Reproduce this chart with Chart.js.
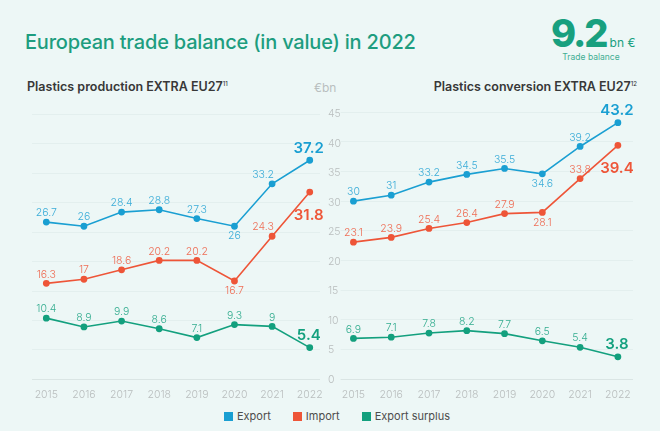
<!DOCTYPE html>
<html>
<head>
<meta charset="utf-8">
<script src="https://cdn.jsdelivr.net/npm/chart.js@4/dist/chart.umd.min.js"></script>
<style>
  html, body { margin: 0; padding: 0; }
  body { width: 660px; height: 431px; background: #edf7f6; position: relative; overflow: hidden; font-family: Inter, "Noto Sans", sans-serif; }
  .abs { position: absolute; white-space: nowrap; }
  #title { left: 25px; top: 30px; font-size: 20px; font-weight: 500; color: #1d9d7f; letter-spacing: -0.2px; }
  #big { left: 551px; top: 10px; font-size: 38px; font-weight: 800; color: #18a07f; letter-spacing: -2px; }
  #big span { font-size: 12px; font-weight: 400; letter-spacing: 0; margin-left: 3px; }
  #tb { left: 558px; top: 52px; font-size: 8.5px; color: #3fae93; width: 66px; text-align: center; }
  .sub { top: 79px; font-size: 12.5px; font-weight: 600; color: #383838; }
  .sub sup { font-size: 6px; font-weight: 500; }
  #subL { left: 27px; }
  #subR { right: 23px; }
  #unit { left: 314px; top: 80px; font-size: 12px; color: #b9bfbf; }
  .wrap { position: absolute; top: 100px; height: 302px; }
  #wrapL { left: 0; width: 354px; }
  #wrapR { left: 336px; width: 324px; }
  #legend { left: 0; top: 409px; width: 660px; display: flex; justify-content: center; gap: 22px; font-size: 11px; color: #4d4d4d; padding-left: 14px; box-sizing: border-box; }
  #legend div { display: flex; align-items: center; }
  #legend i { display: inline-block; width: 9px; height: 9px; margin-right: 4px; }
</style>
</head>
<body>
<div id="title" class="abs">European trade balance (in value) in 2022</div>
<div id="big" class="abs">9.2<span>bn €</span></div>
<div id="tb" class="abs">Trade balance</div>
<div id="subL" class="abs sub">Plastics production EXTRA EU27<sup>11</sup></div>
<div id="unit" class="abs">€bn</div>
<div id="subR" class="abs sub">Plastics conversion EXTRA EU27<sup>12</sup></div>
<div id="wrapL" class="wrap"><canvas id="chartL"></canvas></div>
<div id="wrapR" class="wrap"><canvas id="chartR"></canvas></div>
<div id="legend" class="abs">
  <div><i style="background:#1a9fd2"></i>Export</div>
  <div><i style="background:#ee5538"></i>Import</div>
  <div><i style="background:#13a07e"></i>Export surplus</div>
</div>
<script>
const years = [2015, 2016, 2017, 2018, 2019, 2020, 2021, 2022];
const yTicks = [0, 5, 10, 15, 20, 25, 30, 35, 40, 45];

// Plastics production EXTRA EU27
const prodExport = [26.7, 26, 28.4, 28.8, 27.3, 26, 33.2, 37.2];
const prodImport = [16.3, 17, 18.6, 20.2, 20.2, 16.7, 24.3, 31.8];
const prodSurplus = [10.4, 8.9, 9.9, 8.6, 7.1, 9.3, 9, 5.4];

// Plastics conversion EXTRA EU27
const convExport = [30, 31, 33.2, 34.5, 35.5, 34.6, 39.2, 43.2];
const convImport = [23.1, 23.9, 25.4, 26.4, 27.9, 28.1, 33.8, 39.4];
const convSurplus = [6.9, 7.1, 7.8, 8.2, 7.7, 6.5, 5.4, 3.8];

const COL = { exp: '#1a9fd2', imp: '#ee5538', sur: '#13a07e' };
const FONT = 'Inter, "Noto Sans", sans-serif';

// label placement: 'a' above, 'b' below
const posProdExport = ['a', 'a', 'a', 'a', 'a', 'b', 'a', 'a'];
const posProdImport = ['a', 'a', 'a', 'a', 'a', 'b', 'a', 'b'];
const posConvExport = ['a', 'a', 'a', 'a', 'a', 'b', 'a', 'a'];
const posConvImport = ['a', 'a', 'a', 'a', 'a', 'b', 'a', 'b'];
const posAbove = ['a', 'a', 'a', 'a', 'a', 'a', 'a', 'a'];

// draws the value labels next to each point
const valueLabels = {
    id: 'valueLabels',
    afterDatasetsDraw(chart) {
        const ctx = chart.ctx;
        chart.data.datasets.forEach((ds, i) => {
            const meta = chart.getDatasetMeta(i);
            meta.data.forEach((pt, j) => {
                const last = j === ds.data.length - 1;
                const below = ds.labelPos[j] === 'b';
                let dy = below ? 10 : -9;
                let dx = (chart.canvas.id === 'chartL' && j === 6 && i < 2) ? -9 : 0;
                ctx.save();
                ctx.fillStyle = ds.borderColor;
                ctx.textAlign = 'center';
                ctx.textBaseline = 'middle';
                if (last) {
                    ctx.font = '600 15px ' + FONT;
                    dy = below ? 23 : -12;
                    dx = -1;
                } else {
                    ctx.globalAlpha = 0.85;
                    ctx.font = '300 10.5px ' + FONT;
                }
                ctx.fillText(String(ds.data[j].y), pt.x + dx, pt.y + dy);
                ctx.restore();
            });
        });
    }
};

function series(vals, color, pos) {
    return {
        data: vals.map((v, i) => ({ x: years[i], y: v })),
        borderColor: color,
        backgroundColor: color,
        borderWidth: 1.6,
        pointRadius: 2.6,
        pointHoverRadius: 3,
        tension: 0,
        labelPos: pos
    };
}

function makeChart(id, datasets, xMin, xMax, showY) {
    return new Chart(document.getElementById(id), {
        type: 'line',
        data: { datasets: datasets },
        plugins: [valueLabels],
        options: {
            responsive: true,
            maintainAspectRatio: false,
            animation: false,
            layout: { padding: { top: 12, left: showY ? 32 : 0, right: showY ? 5 : 27, bottom: 0 } },
            scales: {
                x: {
                    type: 'linear',
                    min: xMin,
                    max: xMax,
                    grid: { display: false },
                    border: { display: false },
                    ticks: {
                        stepSize: 1,
                        includeBounds: false,
                        padding: 1,
                        color: '#b9bebe',
                        font: { family: FONT, size: 10.5, weight: 300 },
                        callback: v => String(v)
                    }
                },
                y: {
                    min: 0,
                    max: 45,
                    position: 'right',
                    afterBuildTicks: axis => { axis.ticks = yTicks.map(v => ({ value: v })); },
                    grid: {
                        drawTicks: false,
                        color: c => c.tick && c.tick.value === 0 ? '#dae5e4' : '#e3efee',
                        lineWidth: 1
                    },
                    border: { display: false },
                    ticks: {
                        display: showY,
                        padding: 8,
                        color: '#b9bebe',
                        font: { family: FONT, size: 10.5, weight: 300 }
                    }
                }
            },
            plugins: {
                legend: { display: false },
                tooltip: { enabled: false }
            }
        }
    });
}

makeChart('chartL', [
    series(prodExport, COL.exp, posProdExport),
    series(prodImport, COL.imp, posProdImport),
    series(prodSurplus, COL.sur, posAbove)
], 2014.62, 2022.27, true);

makeChart('chartR', [
    series(convExport, COL.exp, posConvExport),
    series(convImport, COL.imp, posConvImport),
    series(convSurplus, COL.sur, posAbove)
], 2014.66, 2022.4, false);
</script>
</body>
</html>
